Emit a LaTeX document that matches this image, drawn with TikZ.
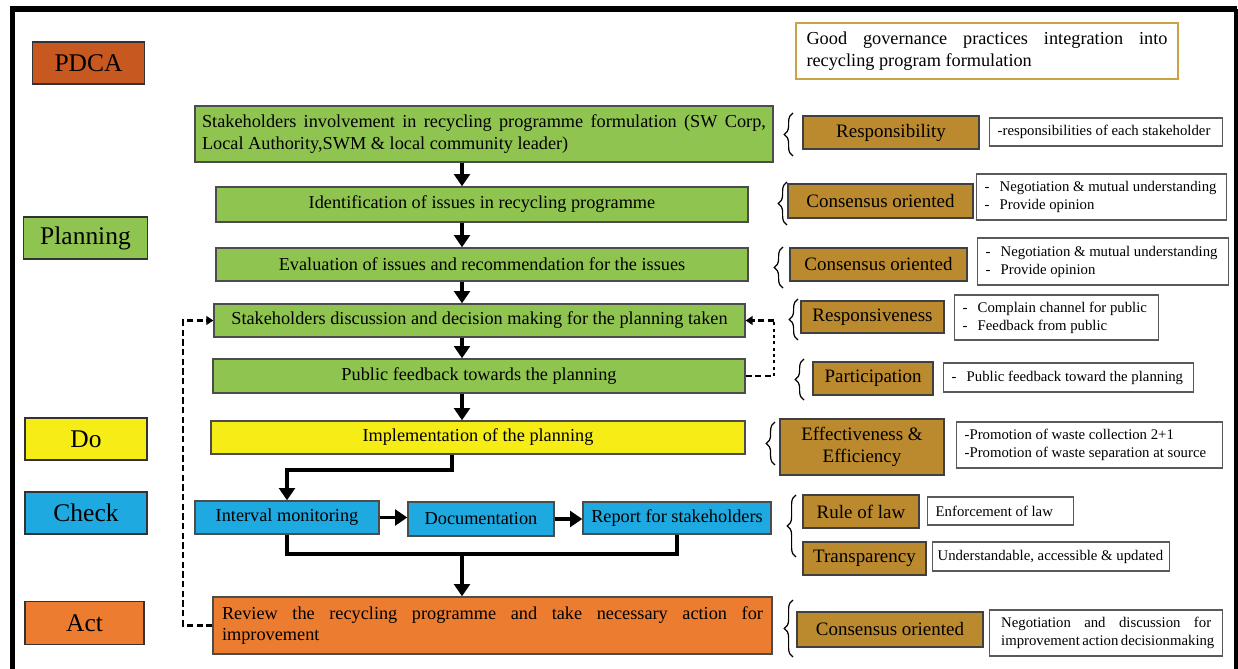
\documentclass[tikz,border=0pt]{standalone}
\usepackage{fontspec}
\setmainfont{Liberation Serif}
\usepackage{tikz}
\usetikzlibrary{arrows.meta, decorations.pathreplacing}
\setlength{\parindent}{0pt}

\definecolor{pdcared}{RGB}{199,88,32}
\definecolor{plangreen}{RGB}{143,196,81}
\definecolor{doyellow}{RGB}{246,236,22}
\definecolor{checkblue}{RGB}{30,169,225}
\definecolor{actorange}{RGB}{236,124,48}
\definecolor{goldbox}{RGB}{187,138,46}
\definecolor{goldline}{RGB}{203,163,70}

% one line spread over the whole text width
\newcommand{\fillline}[1]{\makebox[\hsize][s]{\spaceskip=0pt\xspaceskip=0pt\relax #1}}
\newcommand{\dashmark}{\makebox[0.3cm][l]{-}}

\begin{document}
\begin{tikzpicture}[
            x=0.02cm, y=-0.02cm,
            phase/.style={draw=black!80, line width=0.8pt, minimum width=2.44cm, minimum height=0.84cm, font=\fontsize{14.5}{17}\selectfont}, % PDCA column
            task/.style={draw=black!70, line width=0.8pt, inner sep=1pt, font=\fontsize{10.4}{12.5}\selectfont}, % main flow
            prin/.style={draw=black!75, fill=goldbox, line width=0.8pt, inner sep=1pt, align=flush center, font=\fontsize{10.8}{12.5}\selectfont}, % governance principle
            note/.style={draw=black!65, line width=0.8pt, fill=white, anchor=west, inner xsep=0.16cm, align=flush left, font=\fontsize{8.4}{10.2}\selectfont}, % notes on the right
            flow/.style={line width=2.2pt, -{Triangle[width=9pt,length=7pt]}},
            link/.style={line width=1.8pt},
            fback/.style={line width=1.3pt, dash pattern=on 3.5pt off 2pt},
            brc/.style={decorate, decoration={brace, amplitude=5pt}, line width=0.7pt}
            ]

        \useasboundingbox (0,0) rectangle (1238,669);

        % frame
        \draw[line width=3pt] (12.5,669) -- (12.5,9) -- (1237,9);
        \draw[line width=1.8pt] (1236,9) -- (1236,669);

        % PDCA column
        \node[phase, fill=pdcared, minimum width=2.24cm] (pdca) at (88.5,63) {PDCA};
        \node[phase, fill=plangreen, minimum width=2.48cm] (plan) at (85.5,238) {Planning};
        \node[phase, fill=doyellow] (do) at (86,439) {Do};
        \node[phase, fill=checkblue] (check) at (86,513) {Check};
        \node[phase, fill=actorange, minimum width=2.38cm, minimum height=0.86cm] (act) at (84.5,623) {Act};

        % main flow
        \node[task, fill=plangreen, text width=11.28cm, inner xsep=0.14cm, minimum height=1.12cm, align=flush left] (invol) at (484,134)
            {\fillline{Stakeholders involvement in recycling programme formulation (SW Corp,}\\Local Authority,SWM \& local community leader)};
        \node[task, fill=plangreen, minimum width=10.64cm, minimum height=0.70cm] (ident) at (482,204.5) {Identification of issues in recycling programme};
        \node[task, fill=plangreen, minimum width=10.64cm, minimum height=0.66cm] (evalu) at (482,264.5) {Evaluation of issues and recommendation for the issues};
        \node[task, fill=plangreen, minimum width=10.62cm, minimum height=0.66cm] (discu) at (479.5,320.5) {Stakeholders discussion and decision making for the planning taken};
        \node[task, fill=plangreen, minimum width=10.64cm, minimum height=0.68cm] (feedb) at (479,376) {Public feedback towards the planning};
        \node[task, fill=doyellow, minimum width=10.68cm, minimum height=0.66cm] (implm) at (478,437.5) {Implementation of the planning};
        \node[task, fill=checkblue, minimum width=3.68cm, minimum height=0.66cm] (monit) at (287,517.5) {Interval monitoring};
        \node[task, fill=checkblue, minimum width=2.92cm, minimum height=0.68cm] (docum) at (481,519) {Documentation};
        \node[task, fill=checkblue, minimum width=3.76cm, minimum height=0.64cm] (repor) at (677,518) {Report for stakeholders};
        \node[task, fill=actorange, text width=10.82cm, inner xsep=0.18cm, minimum height=1.14cm, align=flush left] (revie) at (492.5,625.5)
            {\fillline{Review the recycling programme and take necessary action for}\\improvement};

        % title box
        \node[draw=goldline, line width=1.2pt, text width=7.22cm, inner xsep=0.21cm, minimum height=1.12cm, align=flush left, font=\fontsize{10.4}{12.5}\selectfont] (gov) at (987,51)
            {\fillline{Good governance practices integration into}\\recycling program formulation};

        % governance principles
        \node[prin, minimum width=3.52cm, minimum height=0.66cm] (pResp) at (891,132.5) {Responsibility};
        \node[prin, minimum width=3.70cm, minimum height=0.68cm] (pCons) at (880.5,201) {Consensus oriented};
        \node[prin, minimum width=3.54cm, minimum height=0.66cm] (pConsB) at (878.5,264.5) {Consensus oriented};
        \node[prin, minimum width=2.86cm, minimum height=0.64cm] (pRespv) at (872.5,317) {Responsiveness};
        \node[prin, minimum width=2.40cm, minimum height=0.66cm] (pPart) at (873,378.5) {Participation};
        \node[prin, minimum width=3.28cm, minimum height=1.12cm] (pEff) at (862,447) {Effectiveness \&\\Efficiency};
        \node[prin, minimum width=2.32cm, minimum height=0.66cm] (pLaw) at (861,511.5) {Rule of law};
        \node[prin, minimum width=2.46cm, minimum height=0.66cm] (pTrans) at (864.5,558.5) {Transparency};
        \node[prin, minimum width=3.72cm, minimum height=0.70cm] (pConsC) at (890,629.5) {Consensus oriented};

        % notes
        \node[note, text width=4.34cm, minimum height=0.56cm] (nResp) at (989,132) {-responsibilities of each stakeholder};
        \node[note, text width=4.68cm, minimum height=0.92cm] (nCons) at (976,197) {\dashmark Negotiation \& mutual understanding\\\dashmark Provide opinion};
        \node[note, text width=4.70cm, minimum height=0.94cm] (nConsB) at (977,261.5) {\dashmark Negotiation \& mutual understanding\\\dashmark Provide opinion};
        \node[note, text width=3.76cm, minimum height=0.90cm] (nRespv) at (954,317.5) {\dashmark Complain channel for public\\\dashmark Feedback from public};
        \node[note, text width=4.68cm, minimum height=0.58cm] (nPart) at (943,377.5) {\dashmark Public feedback toward the planning};
        \node[note, text width=5.00cm, minimum height=0.92cm] (nEff) at (956,445) {-Promotion of waste collection 2+1\\-Promotion of waste separation at source};
        \node[note, text width=2.60cm, minimum height=0.56cm] (nLaw) at (927,511) {Enforcement of law};
        \node[note, text width=4.54cm, inner xsep=0.1cm, minimum height=0.58cm] (nTrans) at (932,556.5) {Understandable, accessible \& updated};
        \node[note, text width=4.20cm, inner xsep=0.23cm, minimum height=0.92cm] (nConsC) at (989,633)
            {\fillline{Negotiation and discussion for}\\\fillline{improvement action decisionmaking}};

        % braces in front of the principles
        \draw[brc] (793,156) -- (793,113);
        \draw[brc] (787,225) -- (787,182);
        \draw[brc] (783,288) -- (783,247);
        \draw[brc] (798,340) -- (798,299);
        \draw[brc] (804,400) -- (804,359);
        \draw[brc] (775,465) -- (775,422);
        \draw[brc] (796,557) -- (796,495);
        \draw[brc] (793,657) -- (793,600);

        % main flow arrows
        \coordinate (spine) at (462,0);
        \draw[flow] (invol.south -| spine) -- (ident.north -| spine);
        \draw[flow] (ident.south -| spine) -- (evalu.north -| spine);
        \draw[flow] (evalu.south -| spine) -- (discu.north -| spine);
        \draw[flow] (discu.south -| spine) -- (feedb.north -| spine);
        \draw[flow] (feedb.south -| spine) -- (implm.north -| spine);

        \coordinate (bend) at (452,470);
        \draw[link, -{Triangle[width=9pt,length=7pt]}] (implm.south -| bend) -- (bend) -| (monit.north);
        \draw[flow] (monit.east) -- (docum.west |- monit.east);
        \draw[flow] (docum.east) -- (repor.west |- docum.east);

        \coordinate (join) at (462,554);
        \draw[link] (monit.south) |- (join) -| (repor.south);
        \draw[flow] (join) -- (revie.north -| join);

        % feedback loops
        \coordinate (fbL) at (183,0);
        \draw[fback, -{Triangle[width=5pt,length=4pt]}] (revie.west) -- (revie.west -| fbL) |- (discu.west);
        \coordinate (fbR) at (774,0);
        \draw[fback] (feedb.east) -- (feedb.east -| fbR);
        \draw[line width=1.5pt, dash pattern=on 1.8pt off 1.8pt] (feedb.east -| fbR) -- (discu.east -| fbR);
        \draw[fback, -{Triangle[width=5pt,length=4pt]}] (discu.east -| fbR) -- (discu.east);

    \end{tikzpicture}
\end{document}
